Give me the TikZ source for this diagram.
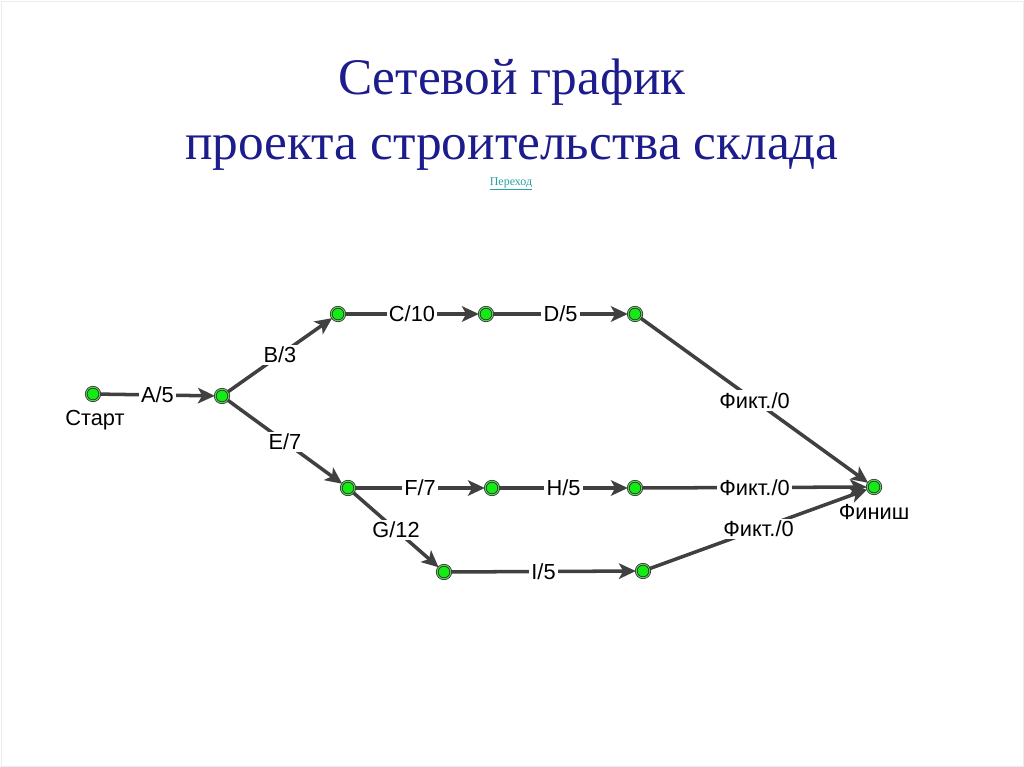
\documentclass[tikz,border=0pt]{standalone}
\usepackage{fontspec}
\setmainfont{Liberation Serif}
\setsansfont{Liberation Sans}
\usetikzlibrary{arrows.meta}
\definecolor{titleBlue}{RGB}{28,28,140}
\definecolor{linkTeal}{RGB}{40,160,165}
\definecolor{edgeGray}{RGB}{64,64,64}
\definecolor{eventGreen}{RGB}{20,235,20}
\definecolor{ringGreen}{RGB}{90,200,90}

\tikzset{
  event/.style={circle, draw=black!85, double=ringGreen, double distance=0.8pt, fill=eventGreen, line width=0.5pt, minimum size=0.34cm, inner sep=0pt},
  work/.style={draw=edgeGray, line width=2.5pt, -{Stealth[length=12pt, width=11pt, inset=3pt]}},
  lbl/.style={fill=white, inner sep=1.5pt, font=\sffamily\fontsize{15.5}{18}\selectfont, text=black}
}

\begin{document}
\begin{tikzpicture}[x=0.025cm, y=-0.025cm]
  \useasboundingbox (0,0) rectangle (1024,767);
  \draw[black!8, line width=0.6pt] (1,1) rectangle (1023,766);
  % title
  \node[font=\fontsize{36.5}{46}\selectfont, text=titleBlue, align=center] (title) at (512,115) {Сетевой график\\проекта строительства склада};
  \node[font=\fontsize{8.5}{10}\selectfont, text=linkTeal] (link) at (511,184) {\underline{Переход}};
  % events
  \node[event] (start) at (93,394) {};
  \node[event] (e2) at (222,396) {};
  \node[event] (e3) at (338,314) {};
  \node[event] (e4) at (486,314) {};
  \node[event] (e5) at (635,314) {};
  \node[event] (e6) at (348,488) {};
  \node[event] (e7) at (492,488) {};
  \node[event] (e8) at (635,488) {};
  \node[event] (e9) at (444,572) {};
  \node[event] (e10) at (643,571) {};
  \node[event] (finish) at (874,487) {};
  \node[lbl, fill=none] at (95,420) {Старт};
  \node[lbl, fill=none] at (874,512) {Финиш};
  % works
  \draw[work] (start) -- node[lbl]{A/5} (e2);
  \draw[work] (e2) -- node[lbl]{B/3} (e3);
  \draw[work] (e3) -- node[lbl]{C/10} (e4);
  \draw[work] (e4) -- node[lbl]{D/5} (e5);
  \draw[work] (e2) -- node[lbl]{E/7} (e6);
  \draw[work] (e6) -- node[lbl]{F/7} (e7);
  \draw[work] (e6) -- node[lbl]{G/12} (e9);
  \draw[work] (e7) -- node[lbl]{H/5} (e8);
  \draw[work] (e9) -- node[lbl]{I/5} (e10);
  \draw[work] (e5) -- node[lbl]{Фикт./0} (finish);
  \draw[work] (e8) -- node[lbl]{Фикт./0} (finish);
  \draw[work] (e10) -- node[lbl]{Фикт./0} (finish);
\end{tikzpicture}
\end{document}
